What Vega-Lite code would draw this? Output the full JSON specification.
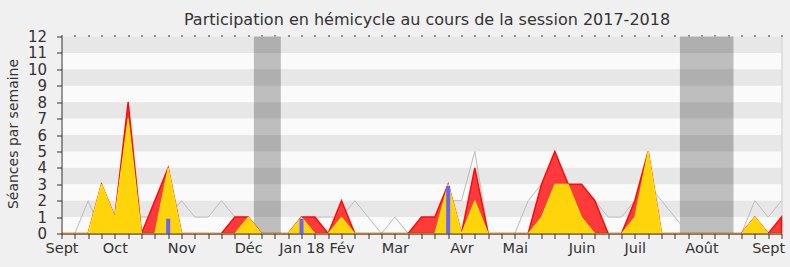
{
  "$schema": "https://vega.github.io/schema/vega-lite/v6.json",
  "width": 720,
  "height": 197,
  "autosize": {"type": "none"},
  "padding": {"left": 61.5, "top": 36.5, "right": 8.5, "bottom": 33.5},
  "background": "#f0f0f0",
  "title": {
    "text": "Participation en hémicycle au cours de la session 2017-2018",
    "font": "DejaVu Sans",
    "fontSize": 16,
    "fontWeight": "normal",
    "color": "#333333",
    "frame": "group",
    "anchor": "middle",
    "dx": 5.5,
    "offset": 2
  },
  "config": {
    "view": {"fill": "#fafafa", "stroke": null},
    "font": "DejaVu Sans",
    "scale": {"continuousPadding": 0}
  },
  "datasets": {
    "weeks": [
      {"w": 0, "med": 0, "pres": 0, "inter": 0},
      {"w": 1, "med": 0, "pres": 0, "inter": 0},
      {"w": 2, "med": 2, "pres": 0, "inter": 0},
      {"w": 3, "med": 0, "pres": 3, "inter": 3},
      {"w": 4, "med": 1, "pres": 1, "inter": 1},
      {"w": 5, "med": 2, "pres": 8, "inter": 7},
      {"w": 6, "med": 1, "pres": 0, "inter": 0},
      {"w": 7, "med": 1, "pres": 2, "inter": 0},
      {"w": 8, "med": 1, "pres": 4, "inter": 4},
      {"w": 9, "med": 2, "pres": 0, "inter": 0},
      {"w": 10, "med": 1, "pres": 0, "inter": 0},
      {"w": 11, "med": 1, "pres": 0, "inter": 0},
      {"w": 12, "med": 2, "pres": 0, "inter": 0},
      {"w": 13, "med": 1, "pres": 1, "inter": 0},
      {"w": 14, "med": 1, "pres": 1, "inter": 1},
      {"w": 15, "med": 0, "pres": 0, "inter": 0},
      {"w": 16, "med": 0, "pres": 0, "inter": 0},
      {"w": 17, "med": 0, "pres": 0, "inter": 0},
      {"w": 18, "med": 1, "pres": 1, "inter": 1},
      {"w": 19, "med": 1, "pres": 1, "inter": 0},
      {"w": 20, "med": 1, "pres": 0, "inter": 0},
      {"w": 21, "med": 1, "pres": 2, "inter": 1},
      {"w": 22, "med": 2, "pres": 0, "inter": 0},
      {"w": 23, "med": 1, "pres": 0, "inter": 0},
      {"w": 24, "med": 0, "pres": 0, "inter": 0},
      {"w": 25, "med": 1, "pres": 0, "inter": 0},
      {"w": 26, "med": 0, "pres": 0, "inter": 0},
      {"w": 27, "med": 1, "pres": 1, "inter": 0},
      {"w": 28, "med": 1, "pres": 1, "inter": 0},
      {"w": 29, "med": 2, "pres": 3, "inter": 3},
      {"w": 30, "med": 2, "pres": 0, "inter": 0},
      {"w": 31, "med": 5, "pres": 4, "inter": 2},
      {"w": 32, "med": 0, "pres": 0, "inter": 0},
      {"w": 33, "med": 0, "pres": 0, "inter": 0},
      {"w": 34, "med": 0, "pres": 0, "inter": 0},
      {"w": 35, "med": 2, "pres": 0, "inter": 0},
      {"w": 36, "med": 3, "pres": 3, "inter": 1},
      {"w": 37, "med": 3, "pres": 5, "inter": 3},
      {"w": 38, "med": 3, "pres": 3, "inter": 3},
      {"w": 39, "med": 2, "pres": 3, "inter": 1},
      {"w": 40, "med": 2, "pres": 2, "inter": 0},
      {"w": 41, "med": 1, "pres": 0, "inter": 0},
      {"w": 42, "med": 1, "pres": 0, "inter": 0},
      {"w": 43, "med": 2, "pres": 2, "inter": 1},
      {"w": 44, "med": 3, "pres": 5, "inter": 5},
      {"w": 45, "med": 2, "pres": 0, "inter": 0},
      {"w": 46, "med": 1, "pres": 0, "inter": 0},
      {"w": 47, "med": 0, "pres": 0, "inter": 0},
      {"w": 48, "med": 0, "pres": 0, "inter": 0},
      {"w": 49, "med": 0, "pres": 0, "inter": 0},
      {"w": 50, "med": 0, "pres": 0, "inter": 0},
      {"w": 51, "med": 0, "pres": 0, "inter": 0},
      {"w": 52, "med": 2, "pres": 1, "inter": 1},
      {"w": 53, "med": 1, "pres": 0, "inter": 0},
      {"w": 54, "med": 2, "pres": 1, "inter": 0}
    ],
    "questions": [
      {"w": 8, "q": 0.9},
      {"w": 18, "q": 0.9},
      {"w": 29, "q": 2.9}
    ],
    "vacances": [
      {"debut": 14.43, "fin": 16.45},
      {"debut": 46.38, "fin": 50.4}
    ],
    "bandes": [
      {"bas": 1, "haut": 2},
      {"bas": 3, "haut": 4},
      {"bas": 5, "haut": 6},
      {"bas": 7, "haut": 8},
      {"bas": 9, "haut": 10},
      {"bas": 11, "haut": 12}
    ]
  },
  "layer": [
    {
      "data": {"name": "vacances"},
      "mark": {"type": "rect", "color": "#bebebe"},
      "encoding": {
        "x": {"field": "debut", "type": "quantitative", "scale": {"domain": [0, 54], "nice": false, "zero": false, "padding": 0}, "axis": null},
        "x2": {"field": "fin"}
      }
    },
    {
      "data": {"name": "bandes"},
      "mark": {"type": "rect", "color": "#000000", "opacity": 0.075},
      "encoding": {
        "y": {"field": "bas", "type": "quantitative", "scale": {"domain": [0, 12], "nice": false}, "axis": null},
        "y2": {"field": "haut"}
      }
    },
    {
      "data": {"name": "weeks"},
      "mark": {"type": "line", "color": "#bbbbbb", "strokeWidth": 1},
      "encoding": {
        "x": {
          "field": "w", "type": "quantitative",
          "scale": {"domain": [0, 54], "nice": false, "zero": false, "padding": 0},
          "axis": {
            "orient": "bottom",
            "title": null,
            "values": [0,1,2,3,4,5,6,7,8,9,10,11,12,13,14,15,16,17,18,19,20,21,22,23,24,25,26,27,28,29,30,31,32,33,34,35,36,37,38,39,40,41,42,43,44,45,46,47,48,49,50,51,52,53,54],
            "labelExpr": "datum.value == 0 ? 'Sept' : datum.value == 4 ? 'Oct' : datum.value == 9 ? 'Nov' : datum.value == 14 ? 'Déc' : datum.value == 18 ? 'Jan 18' : datum.value == 21 ? 'Fév' : datum.value == 25 ? 'Mar' : datum.value == 30 ? 'Avr' : datum.value == 34 ? 'Mai' : datum.value == 39 ? 'Juin' : datum.value == 43 ? 'Juil' : datum.value == 48 ? 'Août' : datum.value == 53 ? 'Sept' : ''",
            "labelOverlap": false,
            "labelBound": false,
            "labelFlush": false,
            "labelFont": "DejaVu Sans",
            "labelFontSize": 14.5,
            "labelColor": "#333333",
            "labelPadding": 3,
            "tickSize": 5,
            "tickColor": "#333333",
            "domainColor": "#333333",
            "grid": false,
            "zindex": 1
          }
        },
        "y": {
          "field": "med", "type": "quantitative",
          "scale": {"domain": [0, 12], "nice": false},
          "axis": {
            "orient": "left",
            "title": "Séances par semaine",
            "titleFont": "DejaVu Sans",
            "titleFontSize": 14,
            "titleFontWeight": "normal",
            "titleColor": "#333333",
            "titleAngle": -90,
            "titleAlign": "center",
            "titleBaseline": "middle",
            "titleX": -48,
            "titleY": 97,
            "values": [0,1,2,3,4,5,6,7,8,9,10,11,12],
            "labelFont": "DejaVu Sans",
            "labelFontSize": 15,
            "labelColor": "#333333",
            "labelPadding": 10,
            "labelBound": false,
            "labelFlush": false,
            "tickSize": 5,
            "tickColor": "#333333",
            "domainColor": "#333333",
            "grid": false,
            "zindex": 1
          }
        }
      }
    },
    {
      "data": {"name": "weeks"},
      "mark": {"type": "area", "fill": "#ff3a3a", "stroke": "#ff0a0a", "strokeWidth": 1.5, "opacity": 1},
      "encoding": {
        "x": {
          "field": "w", "type": "quantitative",
          "scale": {"domain": [0, 54], "nice": false, "zero": false, "padding": 0},
          "axis": {
            "orient": "top",
            "title": null,
            "values": [0,1,2,3,4,5,6,7,8,9,10,11,12,13,14,15,16,17,18,19,20,21,22,23,24,25,26,27,28,29,30,31,32,33,34,35,36,37,38,39,40,41,42,43,44,45,46,47,48,49,50,51,52,53,54],
            "labels": false,
            "domain": false,
            "tickSize": 2,
            "tickColor": "#333333",
            "grid": false
          }
        },
        "y": {
          "field": "pres", "type": "quantitative",
          "scale": {"domain": [0, 12], "nice": false},
          "axis": {
            "orient": "right",
            "title": null,
            "labels": false,
            "ticks": false,
            "domainColor": "#d0d0d0",
            "grid": false
          }
        }
      }
    },
    {
      "data": {"name": "weeks"},
      "mark": {"type": "area", "fill": "#ffd40a", "fillOpacity": 1, "stroke": "#ffee00", "strokeWidth": 1},
      "encoding": {
        "x": {"field": "w", "type": "quantitative", "scale": {"domain": [0, 54], "nice": false, "zero": false, "padding": 0}, "axis": null},
        "y": {"field": "inter", "type": "quantitative", "scale": {"domain": [0, 12], "nice": false}, "axis": null}
      }
    },
    {
      "data": {"name": "questions"},
      "mark": {"type": "bar", "color": "#6464ff", "size": 4},
      "encoding": {
        "x": {"field": "w", "type": "quantitative", "scale": {"domain": [0, 54], "nice": false, "zero": false, "padding": 0}, "axis": null},
        "y": {"field": "q", "type": "quantitative", "scale": {"domain": [0, 12], "nice": false}, "axis": null}
      }
    }
  ],
  "resolve": {"axis": {"x": "independent", "y": "independent"}}
}
